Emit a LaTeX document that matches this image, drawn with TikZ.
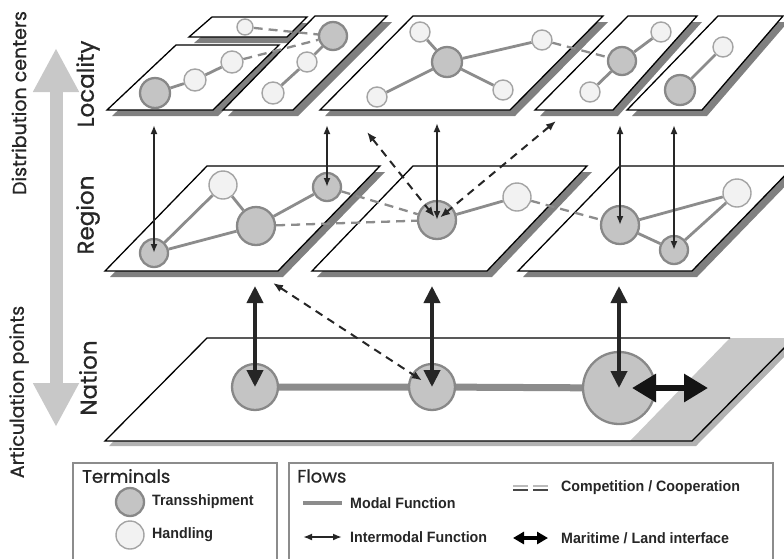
\documentclass[tikz,border=0pt]{standalone}
\usepackage{fontspec}
\setmainfont{Liberation Sans}
\newfontfamily\gothic[FakeBold=0.8]{Poppins}
\usetikzlibrary{arrows.meta,scopes}

\definecolor{tfill}{HTML}{C4C4C4}
\definecolor{tline}{HTML}{888888}
\definecolor{hfill}{HTML}{F2F2F2}
\definecolor{hline}{HTML}{A4A4A4}
\definecolor{mline}{HTML}{8C8C8C}
\definecolor{aline}{HTML}{262626}
\definecolor{axgray}{HTML}{C8C8C8}

\pgfdeclarelayer{plates}
\pgfdeclarelayer{links}
\pgfsetlayers{plates,links,main}

\newcommand{\plate}[4]{%
  \fill[shade] ([shift={(5,6)}]#1) -- ([shift={(5,6)}]#2) -- ([shift={(5,6)}]#3) -- ([shift={(5,6)}]#4) -- cycle;
  \draw[plate] (#1) -- (#2) -- (#3) -- (#4) -- cycle;}

\begin{document}
\begin{tikzpicture}[x=1pt,y=-1pt,
    plate/.style={draw=black,fill=white,line width=1.3pt,line join=miter},
    shade/.style={fill=black!50},
    ts/.style={circle,draw=tline,fill=tfill,line width=2.3pt,inner sep=0pt},
    hd/.style={circle,draw=hline,fill=hfill,line width=1.4pt,inner sep=0pt},
    modal/.style={draw=mline,line width=2.8pt},
    comp/.style={draw=mline,line width=2.3pt,dash pattern=on 9pt off 6pt},
    inter/.style={draw=aline,line width=1.8pt,{Latex[length=9pt,width=7pt]}-{Latex[length=9pt,width=7pt]}},
    coop/.style={draw=aline,line width=2pt,dash pattern=on 8pt off 6pt,{Latex[length=10pt,width=8pt]}-{Latex[length=10pt,width=8pt]}},
    nat/.style={draw=aline,line width=4pt,{Triangle[length=17pt,width=16pt]}-{Triangle[length=17pt,width=16pt]}},
    sealand/.style={draw=black!92,line width=6.5pt,{Triangle[length=24pt,width=27pt]}-{Triangle[length=24pt,width=27pt]}},
    updown/.style={draw=axgray,line width=13pt,{Triangle[length=44pt,width=43pt]}-{Triangle[length=44pt,width=43pt]}},
    level/.style={font=\gothic\fontsize{23}{27}\selectfont,rotate=90,text=aline},
    axis/.style={font=\gothic\fontsize{19}{22}\selectfont,rotate=90,text=aline},
    head/.style={font=\gothic\fontsize{18}{21}\selectfont,anchor=west,inner sep=0pt,text=aline},
    key/.style={font=\bfseries\fontsize{15}{18}\selectfont,xscale=.95,anchor=west,inner sep=0pt,text=aline},
    box/.style={draw=black!45,line width=1.5pt},
]
    \useasboundingbox (0,0) rectangle (784,558);
    \clip (0,0) rectangle (784,558);

    \begin{pgfonlayer}{plates}
    \plate{189,37}{287,37}{307,17}{212,17}
    \plate{107,110}{213,110}{279,45}{176,45}
    \plate{223,110}{293,110}{387,16}{315,16}
    \plate{320,110}{510,110}{603,16}{413,16}
    \plate{535,110}{613,110}{697,16}{628,16}
    \plate{627,110}{702,110}{783,16}{718,16}
    \plate{105,271}{278,271}{380,166}{207,166}
    \plate{312,271}{487,271}{587,166}{413,166}
    \plate{518,271}{692,271}{794,166}{620,166}

    \fill[black!30] (109,446) -- (696,446) -- (798,343) -- (211,343) -- cycle;
    \fill[white] (105,441) -- (692,441) -- (794,338) -- (207,338) -- cycle;
    \fill[axgray] (630,441) -- (692,441) -- (794,338) -- (730,338) -- cycle;
    \draw[line width=1.3pt] (730,338) -- (207,338) -- (105,441) -- (692,441) -- (794,338);
    \end{pgfonlayer}

    \node[hd,minimum size=16pt] (s1) at (245,27) {};
    \node[ts,minimum size=30pt] (l1t) at (155,93) {};
    \node[hd,minimum size=22pt] (l1a) at (195,80) {};
    \node[hd,minimum size=22pt] (l1b) at (232,62) {};
    \node[ts,minimum size=28pt] (l2t) at (333,36) {};
    \node[hd,minimum size=20pt] (l2a) at (307,62) {};
    \node[hd,minimum size=22pt] (l2b) at (273,93) {};
    \node[ts,minimum size=30pt] (l3t) at (447,62) {};
    \node[hd,minimum size=20pt] (l3a) at (420,32) {};
    \node[hd,minimum size=20pt] (l3b) at (377,97) {};
    \node[hd,minimum size=20pt] (l3c) at (503,90) {};
    \node[hd,minimum size=20pt] (l3d) at (542,40) {};
    \node[ts,minimum size=28pt] (l4t) at (622,61) {};
    \node[hd,minimum size=20pt] (l4a) at (661,32) {};
    \node[hd,minimum size=20pt] (l4b) at (590,92) {};
    \node[ts,minimum size=30pt] (l5t) at (680,90) {};
    \node[hd,minimum size=20pt] (l5a) at (723,47) {};
    \node[ts,minimum size=28pt] (r1a) at (154,253) {};
    \node[hd,minimum size=28pt] (r1h) at (223,185) {};
    \node[ts,minimum size=38pt] (r1b) at (256,226) {};
    \node[ts,minimum size=28pt] (r1c) at (327,187) {};
    \node[ts,minimum size=38pt] (r2t) at (437,220) {};
    \node[hd,minimum size=28pt] (r2h) at (517,197) {};
    \node[ts,minimum size=38pt] (r3a) at (620,225) {};
    \node[ts,minimum size=28pt] (r3b) at (674,250) {};
    \node[hd,minimum size=28pt] (r3h) at (737,193) {};
    \node[ts,minimum size=46pt] (n1) at (255,387) {};
    \node[ts,minimum size=46pt] (n2) at (432,387) {};
    \node[ts,minimum size=72pt] (n3) at (619,388) {};

    \begin{pgfonlayer}{links}
    \begin{scope}[modal]
        \draw (l1t) -- (l1a) -- (l1b);
        \draw (l2t) -- (l2a) -- (l2b);
        \draw (l3t) -- (l3a); \draw (l3t) -- (l3b);
        \draw (l3t) -- (l3c); \draw (l3t) -- (l3d);
        \draw (l4t) -- (l4a); \draw (l4t) -- (l4b);
        \draw (l5t) -- (l5a);
        \draw (r1a) -- (r1h) -- (r1b) -- (r1a);
        \draw (r1b) -- (r1c);
        \draw (r2t) -- (r2h);
        \draw (r3a) -- (r3h) -- (r3b) -- (r3a);
        \draw[line width=7pt] (n1) -- (n2) -- (n3);
    \end{scope}
    \begin{scope}[comp]
        \draw (s1) -- (l2t);
        \draw (l1b) -- (l2t);
        \draw (l3d) -- (l4t);
        \draw (r1b) -- (r2t);
        \draw (r1c) -- (r2t);
        \draw (r2h) -- (r3a);
    \end{scope}
    \end{pgfonlayer}

    \coordinate (u1) at (154,125);
    \coordinate (u2) at (327,125);
    \coordinate (u3) at (437,123);
    \coordinate (u4) at (620,125);
    \coordinate (u5) at (674,125);
    \coordinate (c1) at (367,132);
    \coordinate (c2) at (556,121);
    \coordinate (c3) at (273,283);
    \coordinate (d1) at (255,286);
    \coordinate (d2) at (432,286);
    \coordinate (d3) at (619,286);
    \coordinate (sea) at (708,388);
    \coordinate (dc) at (56,48);
    \coordinate (ap) at (56,427);

    {[inter]
        \draw (u1) -- (r1a.center);
        \draw (u2) -- (r1c.center);
        \draw (u3) -- (r2t.center);
        \draw (u4) -- (r3a.center);
        \draw (u5) -- (r3b.center);
    }
    {[coop]
        \draw[shorten >=4pt] (c1) -- (r2t.center);
        \draw[shorten >=4pt] (c2) -- (r2t.center);
        \draw[shorten >=12pt] (c3) -- (n2.center);
    }
    {[nat]
        \draw (d1) -- (n1.center);
        \draw (d2) -- (n2.center);
        \draw (d3) -- (n3.center);
    }
    \draw[sealand] ([xshift=13pt]n3.center) -- (sea);

    \draw[updown] (dc) -- (ap);
    \node[axis] (dist) at (19,103) {Distribution centers};
    \node[axis] (artic) at (19,392) {Articulation points};
    \node[level] (loc) at (88,84) {Locality};
    \node[level] (reg) at (88,215) {Region};
    \node[level] (nat) at (88,378) {Nation};

    \draw[box] (73,463) rectangle (277,575);
    \draw[box] (289,463) rectangle (773,575);
    \node[head] (term) at (82,476) {Terminals};
    \node[ts,minimum size=28pt] (kt) at (130,502) {};
    \node[hd,minimum size=28pt] (kh) at (130,535) {};
    \node[key] (ktl) at (152,502) {Transshipment};
    \node[key] (khl) at (152,535) {Handling};

    \node[head] (flow) at (297,476) {Flows};
    \coordinate (m1) at (303,503); \coordinate (m2) at (342,503);
    \coordinate (i1) at (303,537); \coordinate (i2) at (342,537);
    \coordinate (k1) at (513,488); \coordinate (k2) at (548,488);
    \coordinate (e1) at (513,538); \coordinate (e2) at (548,538);
    \draw[modal,line width=4pt] (m1) -- (m2);
    \draw[inter] (i1) -- (i2);
    \draw[draw=mline!60,line width=2.5pt,dash pattern=on 15pt off 5pt] ([yshift=2pt]k1) -- ([yshift=2pt]k2);
    \draw[draw=aline!85,line width=2.5pt,dash pattern=on 15pt off 5pt] ([yshift=-2pt]k1) -- ([yshift=-2pt]k2);
    \draw[draw=black,line width=4pt,{Triangle[length=11pt,width=12pt]}-{Triangle[length=11pt,width=12pt]}] (e1) -- (e2);
    \node[key] (mfl) at (350,503) {Modal Function};
    \node[key] (ifl) at (350,537) {Intermodal Function};
    \node[key] (ccl) at (561,488) {Competition / Cooperation};
    \node[key] (mll) at (561,538) {Maritime / Land interface};
\end{tikzpicture}
\end{document}
